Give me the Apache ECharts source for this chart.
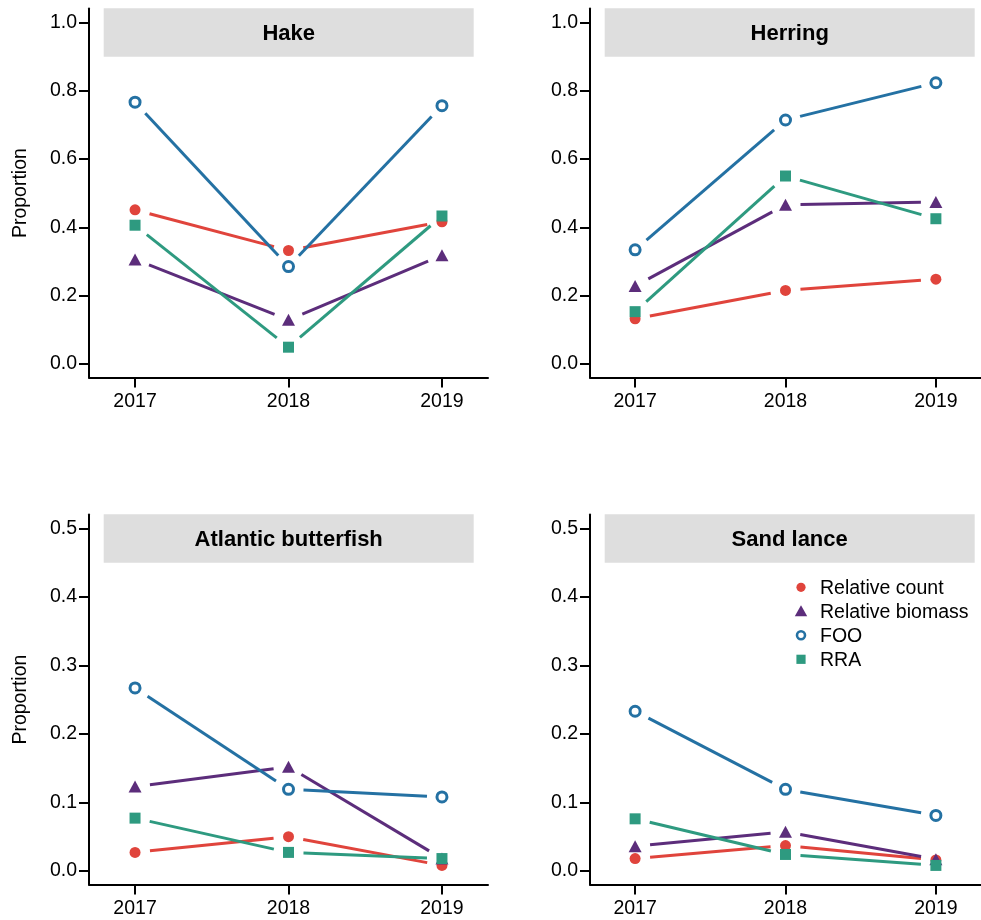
<!DOCTYPE html>
<html>
<head>
<meta charset="utf-8">
<script src="https://cdn.jsdelivr.net/npm/echarts@6/dist/echarts.min.js"></script>
<style>
  html, body { margin: 0; padding: 0; background: #ffffff; }
  #chart { width: 981px; height: 920px; }
</style>
</head>
<body>
<div id="chart"></div>
<script>
// Diet proportions by year for four prey groups
const years = [2017, 2018, 2019];
const panelNames = ['Hake', 'Herring', 'Atlantic butterfish', 'Sand lance'];
const measureNames = ['Relative count', 'Relative biomass', 'FOO', 'RRA'];

const hakeCount   = [0.451, 0.332, 0.416];
const hakeBiomass = [0.306, 0.129, 0.318];
const hakeFOO     = [0.766, 0.285, 0.756];
const hakeRRA     = [0.406, 0.049, 0.433];

const herringCount   = [0.132, 0.215, 0.248];
const herringBiomass = [0.228, 0.466, 0.474];
const herringFOO     = [0.334, 0.714, 0.823];
const herringRRA     = [0.153, 0.550, 0.425];

const butterfishCount   = [0.027, 0.050, 0.008];
const butterfishBiomass = [0.123, 0.152, 0.018];
const butterfishFOO     = [0.267, 0.119, 0.108];
const butterfishRRA     = [0.077, 0.027, 0.018];

const sandlanceCount   = [0.018, 0.037, 0.016];
const sandlanceBiomass = [0.036, 0.057, 0.017];
const sandlanceFOO     = [0.233, 0.119, 0.081];
const sandlanceRRA     = [0.076, 0.024, 0.008];

const ticksUpper = [0, 0.2, 0.4, 0.6, 0.8, 1.0];
const ticksLower = [0, 0.1, 0.2, 0.3, 0.4, 0.5];

const panelValues = [
  [hakeCount, hakeBiomass, hakeFOO, hakeRRA],
  [herringCount, herringBiomass, herringFOO, herringRRA],
  [butterfishCount, butterfishBiomass, butterfishFOO, butterfishRRA],
  [sandlanceCount, sandlanceBiomass, sandlanceFOO, sandlanceRRA]
];

// ---- styling ----
const FONT = '"Liberation Sans", Arial, Helvetica, sans-serif';
const colors = ['#e0443c', '#5c2d7b', '#2471a3', '#2e9a80'];
const LINE_GAP = 15;   // blank space left around each point (type "b" lines)

const grids = [
  { left: 89,  top: 8.6,   width: 399, height: 369 },
  { left: 590, top: 8.6,   width: 399, height: 369 },
  { left: 89,  top: 514.6, width: 399, height: 370 },
  { left: 590, top: 514.6, width: 399, height: 370 }
];
const yRanges = [
  { min: -0.04, max: 1.04, ticks: ticksUpper },
  { min: -0.04, max: 1.04, ticks: ticksUpper },
  { min: -0.02, max: 0.52, ticks: ticksLower },
  { min: -0.02, max: 0.52, ticks: ticksLower }
];

const axisLineStyle = { color: '#000', width: 2 };

const xAxes = grids.map((g, i) => ({
  type: 'value', gridIndex: i, min: 2016.7, max: 2019.3,
  axisLine: { show: true, onZero: false, lineStyle: axisLineStyle },
  axisTick: { show: true, length: 10, lineStyle: axisLineStyle, customValues: years },
  axisLabel: { show: true, margin: 14, customValues: years, color: '#000',
               fontFamily: FONT, fontSize: 19.5, formatter: v => String(Math.round(v)) },
  splitLine: { show: false }
}));

const yAxes = grids.map((g, i) => ({
  type: 'value', gridIndex: i, min: yRanges[i].min, max: yRanges[i].max,
  name: (i % 2 === 0) ? 'Proportion' : '',
  nameLocation: 'middle', nameGap: 58, nameRotate: 90,
  nameTextStyle: { color: '#000', fontFamily: FONT, fontSize: 19.5 },
  axisLine: { show: true, onZero: false, lineStyle: axisLineStyle },
  axisTick: { show: true, length: 10, lineStyle: axisLineStyle, customValues: yRanges[i].ticks },
  axisLabel: { show: true, margin: 12, customValues: yRanges[i].ticks, color: '#000',
               fontFamily: FONT, fontSize: 19.5, formatter: v => v.toFixed(1) },
  splitLine: { show: false }
}));

// Line segments between consecutive years, trimmed at both ends
function segmentData(vals) {
  const out = [];
  for (let k = 0; k < years.length - 1; k++) {
    out.push([years[k], vals[k], years[k + 1], vals[k + 1]]);
  }
  return out;
}

function gappedLine(color) {
  return function (params, api) {
    const a = api.coord([api.value(0), api.value(1)]);
    const b = api.coord([api.value(2), api.value(3)]);
    const dx = b[0] - a[0], dy = b[1] - a[1];
    const L = Math.hypot(dx, dy);
    if (L <= 2 * LINE_GAP) return null;
    const ux = dx / L, uy = dy / L;
    return {
      type: 'line',
      shape: { x1: a[0] + ux * LINE_GAP, y1: a[1] + uy * LINE_GAP,
               x2: b[0] - ux * LINE_GAP, y2: b[1] - uy * LINE_GAP },
      style: { stroke: color, lineWidth: 3 }
    };
  };
}

const markerStyles = [
  { symbol: 'circle',   symbolSize: 11, itemStyle: { color: colors[0], opacity: 1 } },
  { symbol: 'triangle', symbolSize: [13, 12], itemStyle: { color: colors[1], opacity: 1 } },
  { symbol: 'circle',   symbolSize: 10, itemStyle: { color: 'rgba(0,0,0,0)', borderColor: colors[2], borderWidth: 3, opacity: 1 } },
  { symbol: 'rect',     symbolSize: 11, itemStyle: { color: colors[3], opacity: 1 } }
];

const series = [];
panelValues.forEach((measures, p) => {
  measures.forEach((vals, m) => {
    series.push({
      type: 'custom', name: measureNames[m], xAxisIndex: p, yAxisIndex: p,
      renderItem: gappedLine(colors[m]),
      encode: { x: [0, 2], y: [1, 3] },
      data: segmentData(vals), silent: true, z: 2 + m * 2
    });
    series.push(Object.assign({
      type: 'scatter', name: measureNames[m], xAxisIndex: p, yAxisIndex: p,
      data: years.map((y, k) => [y, vals[k]]), silent: true, z: 3 + m * 2
    }, markerStyles[m]));
  });
});

// Panel header strips and titles
const graphics = [];
grids.forEach((g, i) => {
  graphics.push({
    type: 'rect', z: 0,
    shape: { x: g.left + 14.7, y: g.top - 0.3, width: 370, height: 48.5 },
    style: { fill: '#dedede' }
  });
  graphics.push({
    type: 'text', z: 1,
    x: g.left + 199.7, y: g.top + 25.5,
    style: { text: panelNames[i], fill: '#000', font: 'bold 22px ' + FONT,
             textAlign: 'center', textVerticalAlign: 'middle' }
  });
});

// Key for the four measures (placed inside the last panel)
const keyX = 801, keyTextX = 820, keyY0 = 587.3, keyStep = 24;
const keySymbols = [
  { type: 'circle', shape: { cx: keyX, cy: keyY0, r: 4.6 }, style: { fill: colors[0] } },
  { type: 'polygon', shape: { points: [[keyX, keyY0 + keyStep - 6], [keyX - 6.2, keyY0 + keyStep + 5], [keyX + 6.2, keyY0 + keyStep + 5]] }, style: { fill: colors[1] } },
  { type: 'circle', shape: { cx: keyX, cy: keyY0 + 2 * keyStep, r: 4 }, style: { fill: 'none', stroke: colors[2], lineWidth: 2.6 } },
  { type: 'rect', shape: { x: keyX - 4.6, y: keyY0 + 3 * keyStep - 4.6, width: 9.2, height: 9.2 }, style: { fill: colors[3] } }
];
keySymbols.forEach(s => graphics.push(Object.assign({ z: 20 }, s)));
measureNames.forEach((name, m) => {
  graphics.push({
    type: 'text', z: 20, x: keyTextX, y: keyY0 + m * keyStep + 1,
    style: { text: name, fill: '#000', font: '19.5px ' + FONT,
             textAlign: 'left', textVerticalAlign: 'middle' }
  });
});

const chart = echarts.init(document.getElementById('chart'), null, { renderer: 'canvas' });
chart.setOption({
  animation: false,
  backgroundColor: '#ffffff',
  grid: grids.map(g => Object.assign({ containLabel: false }, g)),
  xAxis: xAxes,
  yAxis: yAxes,
  series: series,
  graphic: graphics
});
</script>
</body>
</html>
